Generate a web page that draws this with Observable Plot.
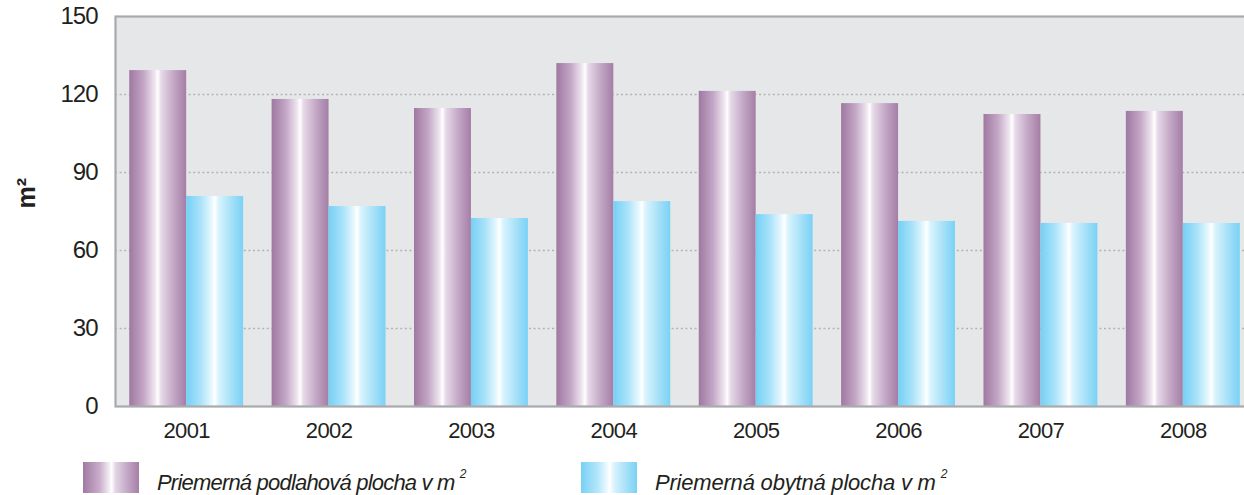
<!DOCTYPE html>
<html><head><meta charset="utf-8">
<script src="https://cdn.jsdelivr.net/npm/d3@7"></script>
<script src="https://cdn.jsdelivr.net/npm/@observablehq/plot@0.6"></script>
<style>
html,body{margin:0;padding:0;background:#fff;overflow:hidden;}
body{font-family:"Liberation Sans",Arial,sans-serif;color:#231f20;width:1244px;height:495px;position:relative;}
#chart{width:1244px;height:450px;overflow:hidden;}
#chart svg{display:block;max-width:none !important;font-family:"Liberation Sans",Arial,sans-serif;color:#231f20;}
#chart g[aria-label="y-axis tick label"] text{letter-spacing:-1px;}
#chart g[aria-label="x-axis tick label"] text{letter-spacing:-0.6px;}
.sw{position:absolute;top:462px;width:56px;height:31px;}
.lt{position:absolute;top:464px;font-style:italic;font-size:22px;line-height:28px;white-space:nowrap;letter-spacing:-0.6px;}
.lt sup{font-size:12px;position:relative;top:-4px;margin-left:5px;}
</style></head><body>
<div id="chart"></div>
<div class="sw" style="left:83px;background:linear-gradient(90deg,#a07aa1 0%,#c9aecb 30%,#f4eef5 47%,#ffffff 51%,#e3d5e5 58%,#c2a6c5 80%,#a57fa6 100%);"></div>
<div class="lt" style="left:157px;letter-spacing:-0.8px;" id="l1"></div>
<div class="sw" style="left:581px;background:linear-gradient(90deg,#77d1f5 0%,#b4e6fa 30%,#eaf9ff 46%,#ffffff 51%,#d6f2fd 60%,#a8e1f8 80%,#79d2f5 100%);"></div>
<div class="lt" style="left:655px;letter-spacing:-0.2px;" id="l2"></div>
<script>
const years = ["2001","2002","2003","2004","2005","2006","2007","2008"];
const floorArea = [129.2, 118.1, 114.6, 131.9, 121.2, 116.5, 112.3, 113.5];
const livingArea = [80.8, 76.9, 72.3, 78.8, 73.8, 71.2, 70.4, 70.4];
const yTicks = [0, 30, 60, 90, 120, 150];
const gridTicks = [30, 60, 90, 120];
const seriesNames = ["Priemerná podlahová plocha v m", "Priemerná obytná plocha v m"];
const yLabel = "m²";

document.getElementById("l1").innerHTML = seriesNames[0] + "<sup>2</sup>";
document.getElementById("l2").innerHTML = seriesNames[1] + "<sup>2</sup>";

const data = years.map((y, i) => ({year: y, floor: floorArea[i], living: livingArea[i]}));

const W = 1254, ML = 115, MR = 0;
const step = (W - ML - MR) / years.length;
const half = step * 0.8 / 2;

const chart = Plot.plot({
  width: W,
  height: 450,
  marginLeft: ML,
  marginRight: MR,
  marginTop: 16,
  marginBottom: 44,
  style: {background: "transparent", maxWidth: "none"},
  x: {type: "band", domain: years, paddingInner: 0.2, paddingOuter: 0.1, round: false},
  y: {domain: [0, 150]},
  marks: [
    Plot.frame({fill: "#e6e7e9"}),
    Plot.gridY(gridTicks, {stroke: "#b3b3b3", strokeOpacity: 1, strokeWidth: 1.6, strokeDasharray: "2,2.6"}),
    Plot.barY(data, {x: "year", y: "floor", fill: "url(#gPurple)", insetRight: half, insetLeft: 0}),
    Plot.barY(data, {x: "year", y: "living", fill: "url(#gBlue)", insetLeft: half, insetRight: 0}),
    Plot.frame({stroke: "#a8aaad", strokeWidth: 2.2}),
    Plot.axisY({ticks: yTicks, tickSize: 0, tickPadding: 18, fontSize: 24, label: null}),
    Plot.axisX({tickSize: 0, tickPadding: 16, fontSize: 22, label: null}),
    Plot.text([yLabel], {text: d => d, frameAnchor: "left", dx: -89, dy: -3, rotate: -90, fontSize: 25, fontWeight: "bold", fill: "#231f20"})
  ]
});

const svg = chart;
const ns = "http://www.w3.org/2000/svg";
const defs = document.createElementNS(ns, "defs");
function grad(id, stops) {
  const g = document.createElementNS(ns, "linearGradient");
  g.setAttribute("id", id);
  g.setAttribute("x1", "0"); g.setAttribute("x2", "1"); g.setAttribute("y1", "0"); g.setAttribute("y2", "0");
  for (const [o, c] of stops) {
    const s = document.createElementNS(ns, "stop");
    s.setAttribute("offset", o); s.setAttribute("stop-color", c);
    g.appendChild(s);
  }
  defs.appendChild(g);
}
grad("gPurple", [[0,"#9f78a0"],[0.25,"#c3a6c6"],[0.45,"#efe6f0"],[0.5,"#ffffff"],[0.56,"#e6d9e8"],[0.78,"#c3a7c6"],[1,"#a47ea5"]]);
grad("gBlue", [[0,"#75d0f5"],[0.25,"#a9e2f9"],[0.45,"#e8f8fe"],[0.5,"#ffffff"],[0.57,"#d8f3fd"],[0.8,"#a5e0f8"],[1,"#79d2f5"]]);
svg.insertBefore(defs, svg.firstChild);

document.getElementById("chart").appendChild(chart);
</script>
</body></html>
